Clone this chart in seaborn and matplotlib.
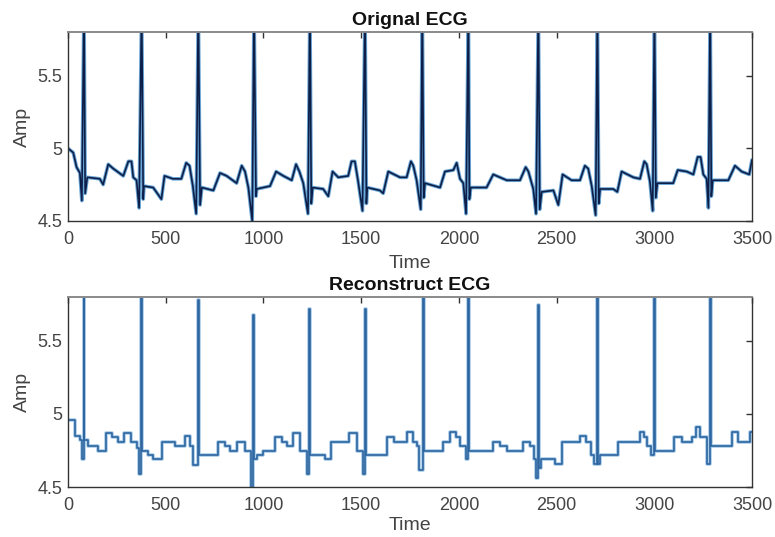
import matplotlib
matplotlib.use("Agg")
import matplotlib.pyplot as plt
import seaborn as sns

# ---------------- data ----------------
orig_time = [0, 27, 44, 61, 71, 82, 88, 99, 163, 180, 206, 232, 283, 309, 325, 334, 351,
             364, 377, 385, 389, 436, 478, 494, 537, 580, 605, 622, 639,
             656, 667, 676, 685, 744, 778, 812, 863, 889, 906, 923,
             943, 952, 962, 966, 1034, 1065, 1102, 1145, 1167, 1184, 1204,
             1228, 1238, 1245, 1252, 1306, 1332, 1354, 1383, 1434, 1451, 1468, 1485,
             1507, 1520, 1527, 1531, 1596, 1613, 1639, 1699, 1733, 1755, 1767, 1784,
             1805, 1813, 1820, 1827, 1904, 1929, 1972, 1989, 2006, 2023,
             2037, 2049, 2054, 2061, 2142, 2176, 2245, 2313, 2342, 2356, 2381,
             2395, 2407, 2414, 2424, 2484, 2509, 2531, 2577, 2620, 2645, 2662, 2680,
             2700, 2709, 2716, 2723, 2790, 2811, 2833, 2893, 2927, 2949, 2961, 2978,
             2992, 3001, 3008, 3016, 3097, 3120, 3166, 3200, 3222, 3237, 3251, 3268,
             3277, 3286, 3292, 3299, 3379, 3413, 3447, 3486, 3500]
orig_amp = [5.00, 4.97, 4.87, 4.83, 4.64, 6.0, 4.69, 4.80, 4.79, 4.75, 4.89, 4.86, 4.81, 4.91, 4.91, 4.80, 4.78,
            4.59, 6.0, 4.65, 4.74, 4.73, 4.65, 4.81, 4.79, 4.79, 4.90, 4.88, 4.74,
            4.55, 6.0, 4.61, 4.73, 4.71, 4.83, 4.81, 4.76, 4.88, 4.84, 4.73,
            4.50, 6.0, 4.67, 4.72, 4.74, 4.84, 4.81, 4.78, 4.89, 4.84, 4.76,
            4.55, 6.0, 4.62, 4.73, 4.72, 4.67, 4.84, 4.80, 4.81, 4.91, 4.91, 4.77,
            4.57, 6.0, 4.62, 4.73, 4.71, 4.69, 4.84, 4.80, 4.80, 4.91, 4.88, 4.78,
            4.58, 6.0, 4.66, 4.76, 4.73, 4.84, 4.85, 4.90, 4.79, 4.76,
            4.55, 6.0, 4.65, 4.73, 4.73, 4.82, 4.78, 4.78, 4.87, 4.84, 4.72,
            4.55, 6.0, 4.58, 4.70, 4.71, 4.61, 4.82, 4.78, 4.78, 4.88, 4.86, 4.74,
            4.54, 6.0, 4.62, 4.72, 4.72, 4.70, 4.84, 4.80, 4.79, 4.91, 4.89, 4.77,
            4.57, 6.0, 4.66, 4.76, 4.76, 4.85, 4.84, 4.82, 4.94, 4.94, 4.82, 4.79,
            4.59, 6.0, 4.67, 4.78, 4.78, 4.88, 4.84, 4.82, 4.92]

recon_time = [0, 35, 61, 72, 80, 84, 101, 155, 193, 223, 254, 288, 322, 353,
              364, 376, 381, 410, 435, 483, 548, 599, 624, 640,
              667, 672, 769, 803, 829, 866, 906, 935,
              948, 953, 965, 999, 1059, 1093, 1119, 1153, 1187, 1221,
              1235, 1240, 1315, 1346, 1440, 1477, 1508,
              1520, 1525, 1634, 1668, 1733, 1764, 1785, 1798,
              1815, 1820, 1920, 1955, 1985, 2006, 2037,
              2049, 2054, 2176, 2211, 2245, 2330, 2364, 2383, 2395,
              2407, 2412, 2420, 2492, 2526, 2620, 2651, 2675, 2690,
              2709, 2714, 2723, 2816, 2927, 2945, 2962, 2985,
              3001, 3006, 3101, 3140, 3191, 3213, 3234, 3270,
              3286, 3291, 3396, 3430, 3490, 3500]
recon_amp = [4.96, 4.85, 4.82, 4.69, 5.95, 4.82, 4.78, 4.75, 4.87, 4.84, 4.81, 4.87, 4.81, 4.77,
             4.59, 5.95, 4.745, 4.72, 4.69, 4.81, 4.78, 4.85, 4.78, 4.65,
             5.78, 4.72, 4.81, 4.78, 4.75, 4.81, 4.75, 4.49,
             5.68, 4.69, 4.72, 4.75, 4.84, 4.81, 4.78, 4.87, 4.75, 4.59,
             5.715, 4.72, 4.69, 4.81, 4.87, 4.75, 4.59,
             5.715, 4.72, 4.84, 4.81, 4.875, 4.81, 4.78, 4.62,
             5.95, 4.75, 4.81, 4.875, 4.84, 4.78, 4.69,
             5.95, 4.75, 4.81, 4.78, 4.75, 4.81, 4.78, 4.69, 4.56,
             5.745, 4.63, 4.69, 4.66, 4.81, 4.85, 4.81, 4.72, 4.66,
             5.95, 4.66, 4.72, 4.81, 4.875, 4.84, 4.78, 4.72,
             5.95, 4.75, 4.84, 4.81, 4.84, 4.91, 4.84, 4.66,
             5.95, 4.78, 4.875, 4.81, 4.875, 4.875]

titles = ["Orignal ECG", "Reconstruct ECG"]
x_ticks = [0, 500, 1000, 1500, 2000, 2500, 3000, 3500]
y_ticks = [4.5, 5.0, 5.5]
y_tick_labels = ["4.5", "5", "5.5"]

# ---------------- styling ----------------
sns.set_style("white")
plt.rcParams['font.family'] = ['Liberation Sans', 'DejaVu Sans']

fig = plt.figure(figsize=(7.75, 5.37), dpi=100)
ax1 = fig.add_axes([0.0877, 0.5885, 0.8826, 0.352])
ax2 = fig.add_axes([0.0877, 0.0930, 0.8826, 0.354])

# original: dark navy core with light-blue halo
sns.lineplot(x=orig_time, y=orig_amp, ax=ax1, color="#6aa6d6", linewidth=2.6,
             estimator=None, sort=False)
sns.lineplot(x=orig_time, y=orig_amp, ax=ax1, color="#0d1f48", linewidth=1.2,
             estimator=None, sort=False)

# reconstruction: step signal
sns.lineplot(x=recon_time, y=recon_amp, ax=ax2, color="#a9cbe8", linewidth=2.6,
             estimator=None, sort=False, drawstyle="steps-post")
sns.lineplot(x=recon_time, y=recon_amp, ax=ax2, color="#2d65a0", linewidth=1.2,
             estimator=None, sort=False, drawstyle="steps-post")

for ax, title, lp in zip([ax1, ax2], titles, [5, 2]):
    ax.set_xlim(0, 3500)
    ax.set_ylim(4.5, 5.8)
    ax.set_xticks(x_ticks)
    ax.set_xticklabels([str(v) for v in x_ticks])
    ax.set_yticks(y_ticks)
    ax.set_yticklabels(y_tick_labels)
    ax.tick_params(axis='both', direction='in', length=4, width=1, color='#333333',
                   labelcolor='#444444', labelsize=13, top=True, right=True)
    ax.tick_params(axis='x', pad=7)
    ax.tick_params(axis='y', pad=4)
    for side, sp in ax.spines.items():
        sp.set_visible(True)
        sp.set_color('#333333')
        sp.set_linewidth(1.0)
    ax.spines['top'].set_color('#8a8a8a')
    ax.spines['top'].set_linewidth(1.4)
    ax.set_title(title, fontsize=14, fontweight='bold', color='#111111', pad=5)
    ax.set_xlabel("Time", fontsize=14, color='#444444', labelpad=lp)
    ax.set_ylabel("Amp", fontsize=14, color='#444444', labelpad=5)
    ax.grid(False)

fig.savefig("out.png", dpi=100)
